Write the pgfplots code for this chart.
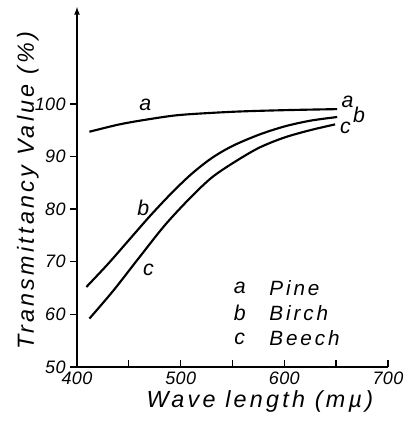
\documentclass[border=0pt]{standalone}
\usepackage{fontspec}
\setmainfont{Liberation Sans}
\newfontfamily\spc[LetterSpace=14]{Liberation Sans}
\newfontfamily\spt[LetterSpace=2]{Liberation Sans}
\usepackage{pgfplots}
\pgfplotsset{compat=1.18}
\begin{document}
\begin{tikzpicture}
\begin{axis}[
  at={(0,0)}, anchor=south west,
  scale only axis, width=233.25pt, height=270pt,
  xmin=400, xmax=700, ymin=50, ymax=118.4,
  axis x line*=bottom, axis y line*=left,
  x axis line style={-, line width=1pt},
  y axis line style={-latex, line width=1pt},
  xtick={400,450,...,700}, xticklabels={400,,500,,600,,700},
  ytick={50,60,...,100},
  xtick align=inside, ytick align=outside,
  major tick length=5pt,
  tick style={line width=1pt, black},
  /pgf/number format/assume math mode=true,
  ticklabel style={font=\spt\itshape\fontsize{13.5}{15}\selectfont},
  xlabel={Wave length (m\textmu)},
  ylabel={Transmittancy Value (\%)},
  label style={font=\spc\itshape\fontsize{17.5}{19}\selectfont},
  xlabel style={at={(axis description cs:0.588,-0.097)}, anchor=center},
  ylabel style={at={(axis description cs:-0.158,0.49)}, anchor=center},
  clip=false,
]
\addplot[black, line width=1.6pt, smooth] coordinates {
 (412,94.7) (441,96.1) (470,97.1) (500,97.9) (551,98.5) (600,98.8) (651,99.0)};
\addplot[black, line width=1.6pt, smooth] coordinates {
 (409,65.2) (430,69.6) (450,74.1) (470,78.6) (490,82.8) (510,86.6) (530,89.7) (550,92.0) (575,94.1) (600,95.7) (625,96.8) (651,97.5)};
\addplot[black, line width=1.6pt, smooth] coordinates {
 (412,59.2) (435,64.5) (460,70.8) (485,77.0) (510,82.3) (530,86.0) (550,88.7) (575,91.6) (600,93.6) (625,95.0) (649,96.1)};
\begin{scope}[every node/.style={font=\itshape\fontsize{16}{18}\selectfont}]
\node at (axis cs:466,99.8) {a};
\node at (axis cs:464,80.2) {b};
\node at (axis cs:469,68.4) {c};
\node at (axis cs:661,100.3) {a};
\node at (axis cs:672,97.9) {b};
\node at (axis cs:659,95.4) {c};
\node at (axis cs:557,65) {a};
\node at (axis cs:557,60.3) {b};
\node at (axis cs:557,55.4) {c};
\node[anchor=west, font=\spc\itshape\fontsize{15.5}{17}\selectfont] at (axis cs:581,65) {Pine};
\node[anchor=west, font=\spc\itshape\fontsize{15.5}{17}\selectfont] at (axis cs:581,60.3) {Birch};
\node[anchor=west, font=\spc\itshape\fontsize{15.5}{17}\selectfont] at (axis cs:581,55.4) {Beech};
\end{scope}
\end{axis}
\pgfresetboundingbox
\useasboundingbox (-57.75pt,-47.25pt) rectangle (246.75pt,275.25pt);
\end{tikzpicture}
\end{document}
